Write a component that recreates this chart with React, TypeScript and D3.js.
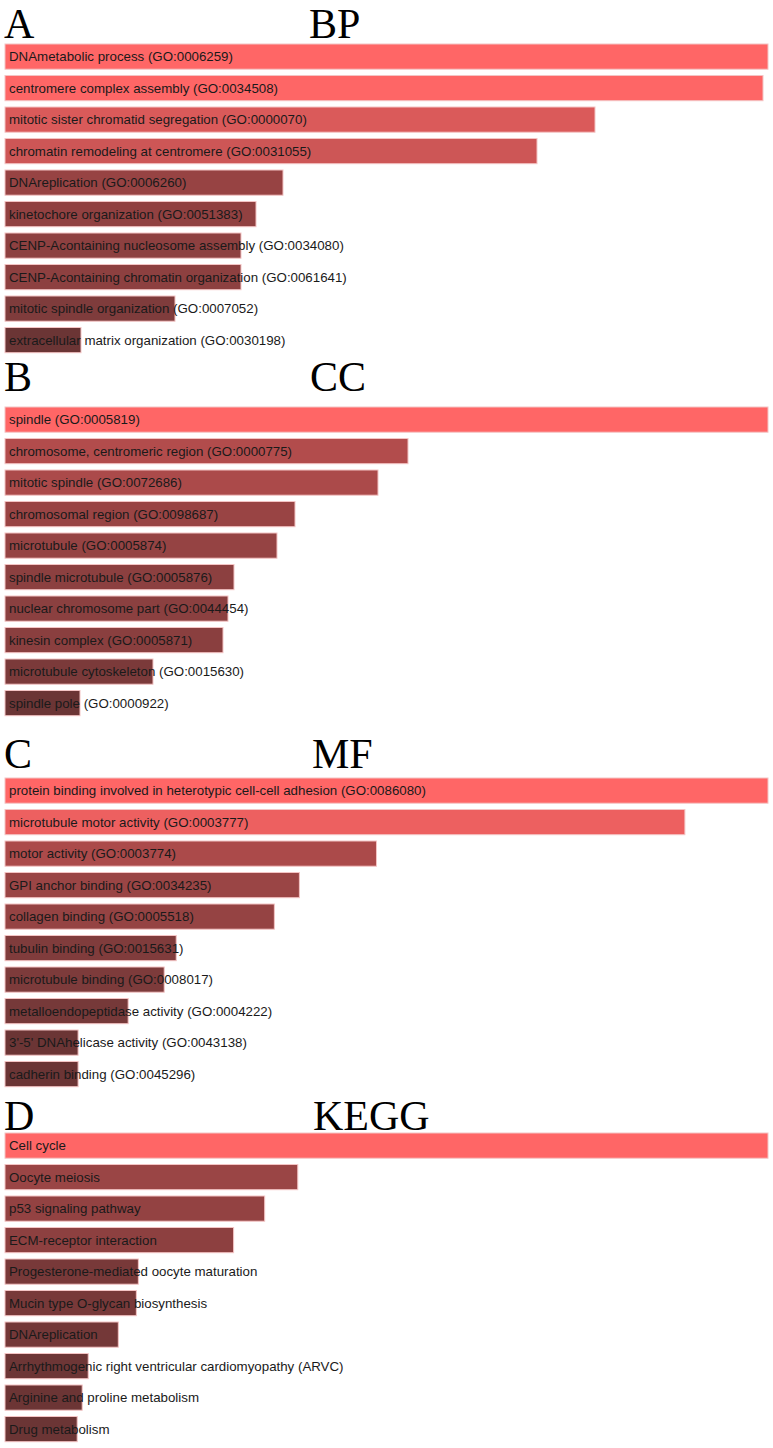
import { useEffect, useRef } from "react";
import * as d3 from "d3";

// enrichment scores (relative bar lengths)
const bpTerms = [
  "DNAmetabolic process (GO:0006259)",
  "centromere complex assembly (GO:0034508)",
  "mitotic sister chromatid segregation (GO:0000070)",
  "chromatin remodeling at centromere (GO:0031055)",
  "DNAreplication (GO:0006260)",
  "kinetochore organization (GO:0051383)",
  "CENP-Acontaining nucleosome assembly (GO:0034080)",
  "CENP-Acontaining chromatin organization (GO:0061641)",
  "mitotic spindle organization (GO:0007052)",
  "extracellular matrix organization (GO:0030198)",
];
const bpScores = [763, 758, 590, 532, 278, 251, 236, 236, 170, 76];

const ccTerms = [
  "spindle (GO:0005819)",
  "chromosome, centromeric region (GO:0000775)",
  "mitotic spindle (GO:0072686)",
  "chromosomal region (GO:0098687)",
  "microtubule (GO:0005874)",
  "spindle microtubule (GO:0005876)",
  "nuclear chromosome part (GO:0044454)",
  "kinesin complex (GO:0005871)",
  "microtubule cytoskeleton (GO:0015630)",
  "spindle pole (GO:0000922)",
];
const ccScores = [763, 403, 373, 290, 272, 229, 223, 218, 148, 75];

const mfTerms = [
  "protein binding involved in heterotypic cell-cell adhesion (GO:0086080)",
  "microtubule motor activity (GO:0003777)",
  "motor activity (GO:0003774)",
  "GPI anchor binding (GO:0034235)",
  "collagen binding (GO:0005518)",
  "tubulin binding (GO:0015631)",
  "microtubule binding (GO:0008017)",
  "metalloendopeptidase activity (GO:0004222)",
  "3'-5' DNAhelicase activity (GO:0043138)",
  "cadherin binding (GO:0045296)",
];
const mfScores = [762, 679, 371, 294, 269, 171, 159, 123, 73, 73];

const keggTerms = [
  "Cell cycle",
  "Oocyte meiosis",
  "p53 signaling pathway",
  "ECM-receptor interaction",
  "Progesterone-mediated oocyte maturation",
  "Mucin type O-glycan biosynthesis",
  "DNAreplication",
  "Arrhythmogenic right ventricular cardiomyopathy (ARVC)",
  "Arginine and proline metabolism",
  "Drug metabolism",
];
const keggScores = [761, 292, 259, 228, 133, 131, 113, 83, 77, 72];

const panelLetters = ["A", "B", "C", "D"];
const panelTitles = ["BP", "CC", "MF", "KEGG"];

const W = 773, H = 1448;

const App = () => {
  const ref = useRef<SVGSVGElement>(null);

  useEffect(() => {
    const svg = d3.select(ref.current);
    svg.selectAll("*").remove();

    const panels = [
      { terms: bpTerms, scores: bpScores, top: 44, base: 38, tx: 309 },
      { terms: ccTerms, scores: ccScores, top: 407, base: 391, tx: 310 },
      { terms: mfTerms, scores: mfScores, top: 778, base: 768, tx: 312 },
      { terms: keggTerms, scores: keggScores, top: 1133, base: 1130, tx: 313 },
    ];
    const step = 31.5, pad = 0.2;

    panels.forEach((p, i) => {
      const g = svg.append("g");
      const rows = p.terms.map((t, j) => ({ term: t, score: p.scores[j] }));

      const x = d3.scaleLinear().domain([0, d3.max(p.scores)!]).range([0, 763]);
      const y = d3.scaleBand()
        .domain(p.terms)
        .range([p.top, p.top + step * (p.terms.length - pad)])
        .paddingInner(pad)
        .paddingOuter(0);
      const color = d3.scaleLinear<string>()
        .domain([d3.min(p.scores)!, d3.max(p.scores)!])
        .range(["#6b3535", "#ff6666"])
        .interpolate(d3.interpolateRgb);

      // panel letter + title
      g.append("text")
        .attr("x", 4)
        .attr("y", p.base)
        .attr("font-family", "'Liberation Serif', 'Times New Roman', serif")
        .attr("font-size", 42)
        .attr("fill", "#000")
        .text(panelLetters[i]);
      g.append("text")
        .attr("x", p.tx)
        .attr("y", p.base)
        .attr("font-family", "'Liberation Serif', 'Times New Roman', serif")
        .attr("font-size", 42)
        .attr("fill", "#000")
        .text(panelTitles[i]);

      g.selectAll("rect.bar")
        .data(rows)
        .enter()
        .append("rect")
        .attr("class", "bar")
        .attr("x", 5)
        .attr("y", d => y(d.term)!)
        .attr("width", d => x(d.score))
        .attr("height", y.bandwidth())
        .attr("fill", d => color(d.score))
        .attr("stroke", "#f4c4c4")
        .attr("stroke-width", 1);

      g.selectAll("text.lbl")
        .data(rows)
        .enter()
        .append("text")
        .attr("class", "lbl")
        .attr("x", 9)
        .attr("y", d => y(d.term)! + y.bandwidth() / 2)
        .attr("dy", "0.35em")
        .attr("font-family", "'Liberation Sans', Arial, sans-serif")
        .attr("font-size", 13.3)
        .attr("fill", "#1a1a1a")
        .text(d => d.term);
    });
  }, []);

  return (
    <svg
      ref={ref}
      width={W}
      height={H}
      style={{ position: "absolute", left: 0, top: 0, background: "#fff" }}
    />
  );
};

export default App;
